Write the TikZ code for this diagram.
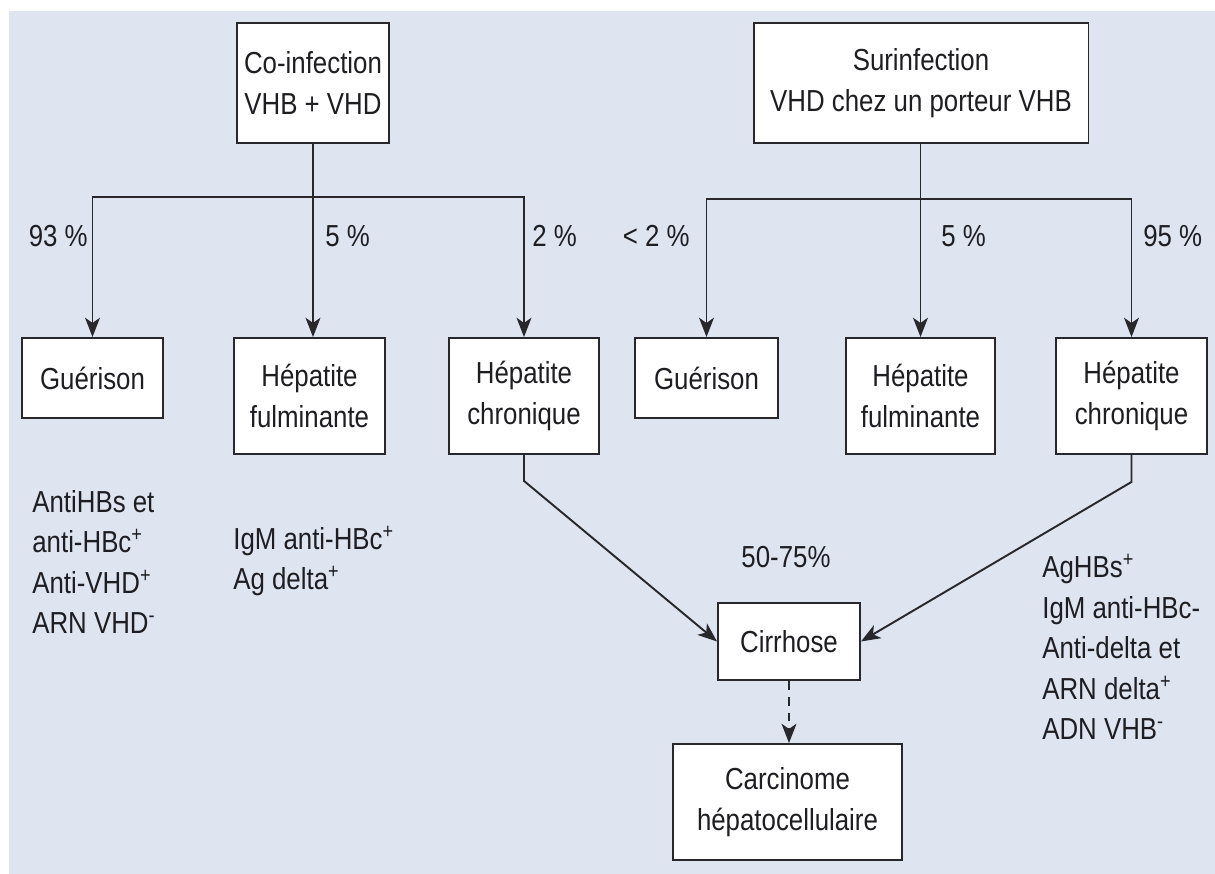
\documentclass[tikz,border=0pt]{standalone}
\usepackage{fontspec}
\setmainfont{Liberation Sans}[FakeStretch=0.85]
\usetikzlibrary{arrows.meta}

\definecolor{bgcol}{RGB}{223,228,241}
\definecolor{linecol}{RGB}{40,40,44}
\definecolor{txtcol}{RGB}{30,30,34}

\tikzset{
	box/.style={draw=linecol, line width=1.1pt, fill=white, align=center, inner sep=0pt, text=txtcol},
	note/.style={align=left, anchor=west, inner sep=0pt, text=txtcol},
	pct/.style={inner sep=0pt, text=txtcol},
	wire/.style={draw=linecol, line width=1.1pt},
	link/.style={wire, -{Stealth[length=11pt,width=8.5pt,inset=3pt]}},
}

\begin{document}
\begin{tikzpicture}[x=0.02cm, y=-0.02cm, font=\fontsize{17.3pt}{23pt}\selectfont]
		\def\tall{2.32cm}
		\def\low{1.6cm}
		\useasboundingbox (0,0) rectangle (1215,874);
		\fill[bgcol] (9,11) rectangle (1215,874);

		\node[box, minimum width=3.04cm, minimum height=2.4cm] (coinf) at (313,83) {Co-infection\\VHB + VHD};
		\node[box, minimum width=6.7cm, minimum height=2.4cm] (surinf) at (921,83) {Surinfection\\VHD chez un porteur VHB};

		\node[box, minimum width=2.82cm, minimum height=\low] (gueL) at (92.5,378) {Guérison};
		\node[box, minimum width=3.02cm, minimum height=\tall] (fulL) at (309.5,396) {Hépatite\\fulminante};
		\node[box, minimum width=3.0cm, minimum height=\tall] (chrL) at (524,396) {Hépatite\\chronique};
		\node[box, minimum width=2.86cm, minimum height=\low] (gueR) at (706.5,378) {Guérison};
		\node[box, minimum width=2.98cm, minimum height=\tall] (fulR) at (920.5,396) {Hépatite\\fulminante};
		\node[box, minimum width=3.02cm, minimum height=\tall] (chrR) at (1131.5,396) {Hépatite\\chronique};

		\node[box, minimum width=2.84cm, minimum height=1.54cm] (cirr) at (789,641.5) {Cirrhose};
		\node[box, minimum width=4.58cm, minimum height=\tall] (carc) at (787.5,802) {Carcinome\\hépatocellulaire};

		\node[pct, anchor=east] (p93) at (88,236) {93 \%};
		\node[pct, anchor=west] (p5L) at (325,236) {5 \%};
		\node[pct, anchor=west] (p2L) at (532,236) {2 \%};
		\node[pct, anchor=east] (p2R) at (690,236) {< 2 \%};
		\node[pct, anchor=west] (p5R) at (941,236) {5 \%};
		\node[pct, anchor=west] (p95) at (1143,236) {95 \%};
		\node[pct] (p5075) at (786,557) {50-75\%};

		\node[note] (noteG) at (32,562) {AntiHBs et\\anti-HBc\textsuperscript{+}\\Anti-VHD\textsuperscript{+}\\ARN VHD\textsuperscript{-}};
		\node[note] (noteF) at (233,561) {IgM anti-HBc\textsuperscript{+}\\Ag delta\textsuperscript{+}};
		\node[note] (noteC) at (1042,647) {AgHBs\textsuperscript{+}\\IgM anti-HBc-\\Anti-delta et\\ARN delta\textsuperscript{+}\\ADN VHB\textsuperscript{-}};

		\coordinate (jL) at (313,197);
		\coordinate (jR) at (920.5,199);
		\path (chrL.south) ++(0,26) coordinate (kL);
		\path (chrR.south) ++(0,27) coordinate (kR);

		\draw[link] (coinf) -- (coinf |- fulL.north);
		\draw[link] (jL) -| (gueL);
		\draw[link] (jL) -| (chrL);
		\draw[link] (surinf.south -| jR) -- (fulR);
		\draw[link] (jR) -| (gueR);
		\draw[link] (jR) -| (chrR);

		\draw[link] (chrL) -- (kL) -- (cirr.west);
		\draw[link] (chrR) -- (kR) -- (cirr.east);
		\draw[link, dash pattern=on 5pt off 4pt] (cirr.south) -- (cirr.south |- carc.north);
	\end{tikzpicture}
\end{document}
